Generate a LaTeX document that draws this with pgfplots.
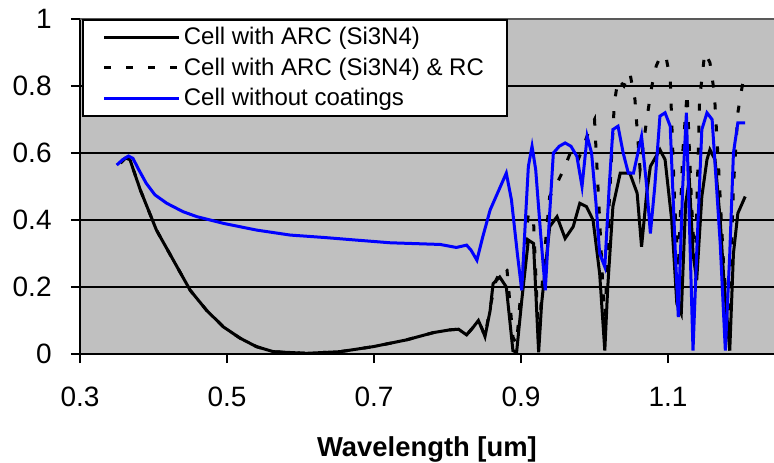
\documentclass[border=0pt]{standalone}
\usepackage{fontspec}
\setmainfont{Liberation Sans}
\usepackage{pgfplots}
\pgfplotsset{compat=1.18}
\definecolor{plotgray}{RGB}{192,192,192}
\definecolor{lineblue}{RGB}{0,0,255}
\begin{document}
\begin{tikzpicture}
\begin{axis}[
    scale only axis,
    width=347pt, height=167.5pt,
    xmin=0.3, xmax=1.2442,
    ymin=0, ymax=1,
    axis lines=left,
    axis line style={-, line width=1pt, black},
    axis background/.style={fill=plotgray},
    xtick={0.3,0.5,0.7,0.9,1.1},
    ytick={0,0.2,0.4,0.6,0.8,1},
    ymajorgrids,
    major grid style={black, line width=0.8pt},
    tick align=outside,
    major tick length=4.5pt,
    tick style={black, line width=0.8pt},
    /pgf/number format/assume math mode=true,
    ticklabel style={font=\fontsize{14}{16}\selectfont},
    yticklabel style={inner sep=0pt, xshift=-9.5pt},
    xticklabel style={inner sep=0pt, yshift=-12pt},
    xlabel={\textbf{Wavelength [um]}},
    xlabel style={at={(axis description cs:0.5,0)}, anchor=center, yshift=-47.5pt,
        font=\fontsize{13.7}{15}\selectfont},
    legend cell align=left,
    legend style={at={(rel axis cs:0.003,1)}, anchor=north west,
        draw=black, line width=0.8pt, fill=white,
        font=\fontsize{12}{14}\selectfont,
        inner xsep=10pt, inner ysep=1pt, row sep=0pt,
        nodes={inner xsep=1.5pt, inner ysep=2.6pt}},
    legend image code/.code={\draw[#1] (0pt,0pt) -- (37.5pt,0pt);},
    clip=true,
]
% cell with ARC
\addplot[black, line width=1.5pt] coordinates {
    (0.355,0.570) (0.362,0.585) (0.368,0.580) (0.382,0.490) (0.404,0.370)
    (0.427,0.280) (0.450,0.190) (0.472,0.131) (0.495,0.081) (0.518,0.047)
    (0.540,0.022) (0.563,0.007) (0.608,0.002) (0.654,0.007) (0.699,0.022)
    (0.744,0.042) (0.781,0.064) (0.803,0.072) (0.815,0.074) (0.826,0.057)
    (0.835,0.080) (0.842,0.100) (0.847,0.075) (0.851,0.052) (0.858,0.130)
    (0.862,0.210) (0.871,0.230) (0.880,0.200) (0.889,0.010) (0.894,0.005)
    (0.901,0.160) (0.910,0.340) (0.917,0.330) (0.924,0.005) (0.928,0.150)
    (0.939,0.380) (0.949,0.410) (0.960,0.345) (0.971,0.380) (0.980,0.450)
    (0.989,0.440) (0.998,0.400) (1.007,0.240) (1.014,0.010) (1.018,0.200)
    (1.025,0.440) (1.035,0.540) (1.048,0.540) (1.058,0.480) (1.064,0.320)
    (1.071,0.480) (1.076,0.560) (1.089,0.610) (1.096,0.580) (1.105,0.400)
    (1.112,0.150) (1.118,0.120) (1.124,0.450) (1.129,0.520) (1.134,0.300)
    (1.139,0.220) (1.146,0.470) (1.153,0.580) (1.157,0.610) (1.164,0.580)
    (1.171,0.400) (1.176,0.220) (1.184,0.010) (1.189,0.300) (1.195,0.420)
    (1.205,0.470)
};
% cell with ARC and RC
\addplot[black, line width=1.5pt, dash pattern=on 3.5pt off 7.5pt] coordinates {
    (0.355,0.570) (0.362,0.585) (0.368,0.580) (0.382,0.490) (0.404,0.370)
    (0.427,0.280) (0.450,0.190) (0.472,0.131) (0.495,0.081) (0.518,0.047)
    (0.540,0.022) (0.563,0.007) (0.608,0.002) (0.654,0.007) (0.699,0.022)
    (0.744,0.042) (0.781,0.064) (0.803,0.072) (0.815,0.074) (0.826,0.057)
    (0.835,0.080) (0.842,0.100) (0.847,0.075) (0.851,0.052) (0.858,0.140)
    (0.866,0.220) (0.875,0.260) (0.881,0.250) (0.889,0.050) (0.894,0.030)
    (0.901,0.220) (0.910,0.420) (0.917,0.400) (0.924,0.030) (0.930,0.250)
    (0.939,0.470) (0.949,0.510) (0.958,0.550) (0.967,0.600) (0.976,0.570)
    (0.985,0.620) (0.993,0.670) (1.000,0.700) (1.007,0.400) (1.014,0.080)
    (1.020,0.450) (1.027,0.750) (1.032,0.820) (1.040,0.800) (1.048,0.840)
    (1.055,0.760) (1.062,0.550) (1.071,0.700) (1.078,0.800) (1.084,0.860)
    (1.090,0.890) (1.097,0.890) (1.103,0.820) (1.109,0.450) (1.114,0.250)
    (1.120,0.600) (1.126,0.780) (1.132,0.450) (1.137,0.250) (1.143,0.760)
    (1.150,0.900) (1.157,0.870) (1.163,0.780) (1.169,0.550) (1.176,0.250)
    (1.183,0.080) (1.189,0.500) (1.195,0.720) (1.201,0.800) (1.205,0.840)
};
% cell without coatings
\addplot[lineblue, line width=1.5pt] coordinates {
    (0.350,0.564) (0.358,0.580) (0.366,0.591) (0.372,0.584) (0.380,0.550)
    (0.390,0.510) (0.402,0.475) (0.418,0.450) (0.440,0.425) (0.459,0.410)
    (0.495,0.390) (0.540,0.370) (0.586,0.355) (0.631,0.348) (0.676,0.340)
    (0.722,0.332) (0.790,0.327) (0.812,0.318) (0.826,0.325) (0.832,0.310)
    (0.840,0.280) (0.848,0.350) (0.858,0.430) (0.870,0.490) (0.880,0.540)
    (0.887,0.460) (0.895,0.300) (0.901,0.190) (0.906,0.400) (0.910,0.560)
    (0.915,0.620) (0.920,0.550) (0.927,0.350) (0.933,0.190) (0.939,0.420)
    (0.944,0.600) (0.952,0.620) (0.960,0.630) (0.968,0.620) (0.976,0.590)
    (0.983,0.500) (0.990,0.650) (0.996,0.600) (1.002,0.450) (1.007,0.300)
    (1.014,0.260) (1.020,0.500) (1.025,0.670) (1.032,0.680) (1.039,0.600)
    (1.046,0.540) (1.053,0.540) (1.059,0.600) (1.064,0.650) (1.071,0.500)
    (1.076,0.360) (1.082,0.500) (1.089,0.710) (1.096,0.720) (1.103,0.680)
    (1.110,0.300) (1.114,0.110) (1.120,0.500) (1.125,0.720) (1.129,0.400)
    (1.134,0.010) (1.139,0.300) (1.146,0.670) (1.153,0.720) (1.160,0.700)
    (1.166,0.500) (1.171,0.330) (1.178,0.010) (1.184,0.300) (1.189,0.600)
    (1.195,0.690) (1.205,0.690)
};
\draw[gray!70!black, line width=0.8pt] (rel axis cs:0,1) -- (rel axis cs:1,1);
\coordinate (bbsw) at (rel axis cs:-0.11527,-0.32537);
\coordinate (bbne) at (rel axis cs:1,1.05672);
\legend{Cell with ARC (Si3N4), Cell with ARC (Si3N4) \& RC, Cell without coatings}
\end{axis}
\pgfresetboundingbox
\path[use as bounding box] (bbsw) rectangle (bbne);
\end{tikzpicture}
\end{document}
